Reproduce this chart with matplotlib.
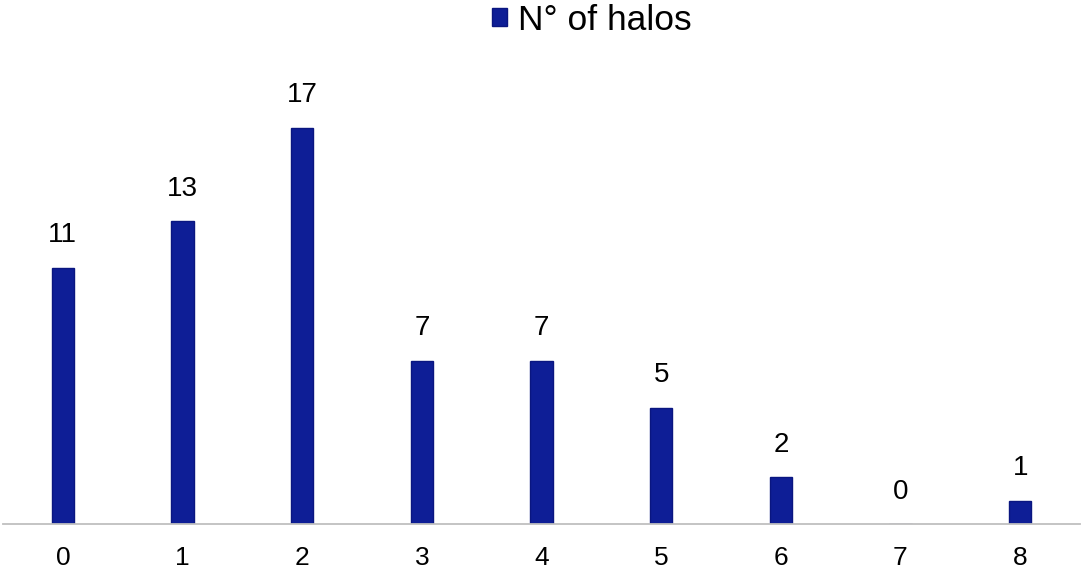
import matplotlib
matplotlib.use("Agg")
import matplotlib.pyplot as plt

categories = ["0", "1", "2", "3", "4", "5", "6", "7", "8"]
values = [11, 13, 17, 7, 7, 5, 2, 0, 1]
series_name = "N° of halos"

plt.rcParams['font.family'] = ['Liberation Sans', 'DejaVu Sans']

fig = plt.figure(figsize=(10.84, 5.77), dpi=100)
ax = fig.add_axes([3/1084, 53/577, 1077/1084, 466/577])

x = list(range(len(categories)))
bars = ax.bar(x, values, width=0.185, color="#0E1E96", edgecolor="#0A1680",
              linewidth=1.0, label=series_name, zorder=2)

for xi, v in zip(x, values):
    ax.annotate(str(v), (xi, v), xytext=(0, 14), textcoords="offset points",
                ha="center", va="bottom", fontsize=20, color="#000000")

ax.set_xlim(-0.5, len(categories) - 0.5)
ax.set_ylim(0, 20)
ax.set_xticks(x)
ax.set_xticklabels(categories, fontsize=19)
ax.tick_params(axis="x", length=0, pad=16)
ax.set_yticks([])
for s in ["top", "right", "left"]:
    ax.spines[s].set_visible(False)
ax.spines["bottom"].set_color("#BFBFBF")
ax.spines["bottom"].set_linewidth(1.3)

fig.legend(handles=[bars], labels=[series_name], loc="center",
           bbox_to_anchor=(592/1084, 1 - 20/577), frameon=False,
           fontsize=25.5, handlelength=0.42, handleheight=0.42,
           handletextpad=0.3, borderpad=0)

fig.savefig("out.png", dpi=100)
